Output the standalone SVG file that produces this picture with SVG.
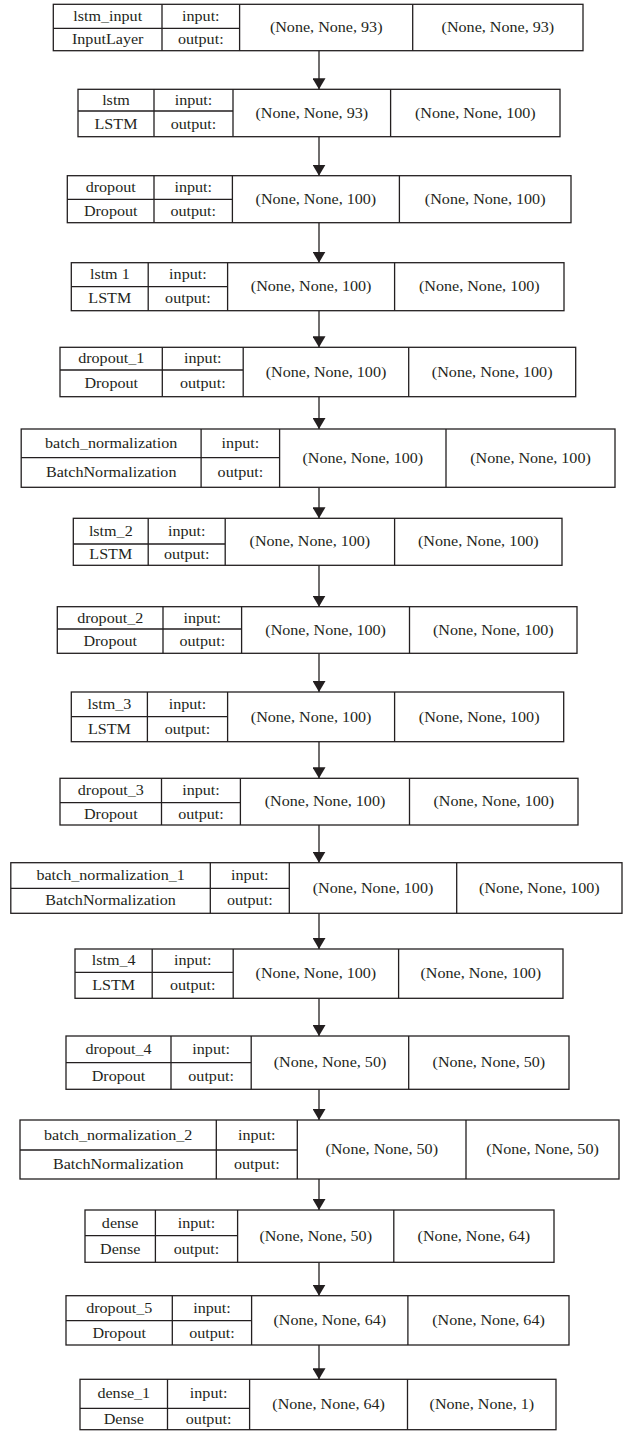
<svg xmlns="http://www.w3.org/2000/svg" width="625" height="1431" viewBox="0 0 625 1431">
<style>
.b{fill:#fff;stroke:#231f20;stroke-width:1.3}
.l{stroke:#231f20;stroke-width:1.3;fill:none}
text{font-family:"Liberation Serif","Times New Roman",serif;font-size:14px;fill:#231f20;text-anchor:middle}
.c{stroke:#231f20;stroke-width:1.3;fill:none;marker-end:url(#ah)}
</style>
<defs>
<marker id="ah" markerUnits="userSpaceOnUse" viewBox="0 0 11 13" markerWidth="11" markerHeight="13" refX="11" refY="6.5" orient="auto">
<path d="M0,0 L11,6.5 L0,13 Z" fill="#231f20"/>
</marker>
</defs>
<rect width="625" height="1431" fill="#fff"/>
<g id="connectors">
<line class="c" x1="319" y1="50.7" x2="319" y2="89.3"/>
<line class="c" x1="319" y1="136.7" x2="319" y2="175.7"/>
<line class="c" x1="319" y1="222.7" x2="319" y2="262.7"/>
<line class="c" x1="319" y1="310.7" x2="319" y2="347.3"/>
<line class="c" x1="319" y1="396.7" x2="319" y2="429"/>
<line class="c" x1="319" y1="487.3" x2="319" y2="518.3"/>
<line class="c" x1="319" y1="565.3" x2="319" y2="606.7"/>
<line class="c" x1="319" y1="653.3" x2="319" y2="692"/>
<line class="c" x1="319" y1="741.7" x2="319" y2="778.3"/>
<line class="c" x1="319" y1="825" x2="319" y2="862.7"/>
<line class="c" x1="319" y1="913.3" x2="319" y2="949"/>
<line class="c" x1="319" y1="998.3" x2="319" y2="1036"/>
<line class="c" x1="319" y1="1089.3" x2="319" y2="1120"/>
<line class="c" x1="319" y1="1179" x2="319" y2="1210"/>
<line class="c" x1="319" y1="1262.3" x2="319" y2="1295.7"/>
<line class="c" x1="319" y1="1345" x2="319" y2="1379.3"/>
</g>
<g id="lstm_input">
<rect class="b" x="53.3" y="4.3" width="529.7" height="46.4"/>
<path class="l" d="M162,4.3V50.7M239.6,4.3V50.7M412.7,4.3V50.7M53.3,28.3H239.6"/>
<text transform="translate(107.7 20.9) scale(1.15 1)">lstm_input</text>
<text transform="translate(107.7 44.1) scale(1.15 1)">InputLayer</text>
<text transform="translate(200.8 20.9) scale(1.15 1)">input:</text>
<text transform="translate(200.8 44.1) scale(1.15 1)">output:</text>
<text transform="translate(326.2 32.1) scale(1.15 1)">(None, None, 93)</text>
<text transform="translate(497.9 32.1) scale(1.15 1)">(None, None, 93)</text>
</g>
<g id="lstm">
<rect class="b" x="78" y="89.3" width="482" height="47.4"/>
<path class="l" d="M154,89.3V136.7M233,89.3V136.7M390.6,89.3V136.7M78,111H233"/>
<text transform="translate(116 104.8) scale(1.15 1)">lstm</text>
<text transform="translate(116 128.5) scale(1.15 1)">LSTM</text>
<text transform="translate(193.5 104.8) scale(1.15 1)">input:</text>
<text transform="translate(193.5 128.5) scale(1.15 1)">output:</text>
<text transform="translate(311.8 117.6) scale(1.15 1)">(None, None, 93)</text>
<text transform="translate(475.3 117.6) scale(1.15 1)">(None, None, 100)</text>
</g>
<g id="dropout">
<rect class="b" x="67.3" y="175.7" width="503.7" height="47"/>
<path class="l" d="M154,175.7V222.7M232.4,175.7V222.7M399.4,175.7V222.7M67.3,199.3H232.4"/>
<text transform="translate(110.7 192.1) scale(1.15 1)">dropout</text>
<text transform="translate(110.7 215.6) scale(1.15 1)">Dropout</text>
<text transform="translate(193.2 192.1) scale(1.15 1)">input:</text>
<text transform="translate(193.2 215.6) scale(1.15 1)">output:</text>
<text transform="translate(315.9 203.8) scale(1.15 1)">(None, None, 100)</text>
<text transform="translate(485.2 203.8) scale(1.15 1)">(None, None, 100)</text>
</g>
<g id="lstm_1">
<rect class="b" x="71.3" y="262.7" width="492.7" height="48"/>
<path class="l" d="M148.2,262.7V310.7M227.6,262.7V310.7M394.6,262.7V310.7M71.3,286.7H227.6"/>
<text transform="translate(109.8 279.3) scale(1.15 1)">lstm 1</text>
<text transform="translate(109.8 303.3) scale(1.15 1)">LSTM</text>
<text transform="translate(187.9 279.3) scale(1.15 1)">input:</text>
<text transform="translate(187.9 303.3) scale(1.15 1)">output:</text>
<text transform="translate(311.1 291.3) scale(1.15 1)">(None, None, 100)</text>
<text transform="translate(479.3 291.3) scale(1.15 1)">(None, None, 100)</text>
</g>
<g id="dropout_1">
<rect class="b" x="60" y="347.3" width="515.7" height="49.4"/>
<path class="l" d="M162.3,347.3V396.7M243.2,347.3V396.7M408.7,347.3V396.7M60,370H243.2"/>
<text transform="translate(111.2 363.3) scale(1.15 1)">dropout_1</text>
<text transform="translate(111.2 388) scale(1.15 1)">Dropout</text>
<text transform="translate(202.8 363.3) scale(1.15 1)">input:</text>
<text transform="translate(202.8 388) scale(1.15 1)">output:</text>
<text transform="translate(326 376.6) scale(1.15 1)">(None, None, 100)</text>
<text transform="translate(492.2 376.6) scale(1.15 1)">(None, None, 100)</text>
</g>
<g id="batch_normalization">
<rect class="b" x="21.2" y="429" width="593.8" height="58.3"/>
<path class="l" d="M201.1,429V487.3M279.6,429V487.3M446,429V487.3M21.2,457.7H279.6"/>
<text transform="translate(111.2 448) scale(1.15 1)">batch_normalization</text>
<text transform="translate(111.2 477.1) scale(1.15 1)">BatchNormalization</text>
<text transform="translate(240.4 448) scale(1.15 1)">input:</text>
<text transform="translate(240.4 477.1) scale(1.15 1)">output:</text>
<text transform="translate(362.8 462.8) scale(1.15 1)">(None, None, 100)</text>
<text transform="translate(530.5 462.8) scale(1.15 1)">(None, None, 100)</text>
</g>
<g id="lstm_2">
<rect class="b" x="73.3" y="518.3" width="488.7" height="47"/>
<path class="l" d="M148.2,518.3V565.3M225.2,518.3V565.3M394.6,518.3V565.3M73.3,544H225.2"/>
<text transform="translate(110.8 535.8) scale(1.15 1)">lstm_2</text>
<text transform="translate(110.8 559.3) scale(1.15 1)">LSTM</text>
<text transform="translate(186.7 535.8) scale(1.15 1)">input:</text>
<text transform="translate(186.7 559.3) scale(1.15 1)">output:</text>
<text transform="translate(309.9 546.4) scale(1.15 1)">(None, None, 100)</text>
<text transform="translate(478.3 546.4) scale(1.15 1)">(None, None, 100)</text>
</g>
<g id="dropout_2">
<rect class="b" x="57.3" y="606.7" width="519.7" height="46.6"/>
<path class="l" d="M163,606.7V653.3M241.6,606.7V653.3M409.5,606.7V653.3M57.3,629H241.6"/>
<text transform="translate(110.2 622.5) scale(1.15 1)">dropout_2</text>
<text transform="translate(110.2 645.8) scale(1.15 1)">Dropout</text>
<text transform="translate(202.3 622.5) scale(1.15 1)">input:</text>
<text transform="translate(202.3 645.8) scale(1.15 1)">output:</text>
<text transform="translate(325.6 634.6) scale(1.15 1)">(None, None, 100)</text>
<text transform="translate(493.3 634.6) scale(1.15 1)">(None, None, 100)</text>
</g>
<g id="lstm_3">
<rect class="b" x="71.3" y="692" width="492.4" height="49.7"/>
<path class="l" d="M147.4,692V741.7M227.6,692V741.7M394.6,692V741.7M71.3,716.7H227.6"/>
<text transform="translate(109.4 709) scale(1.15 1)">lstm_3</text>
<text transform="translate(109.4 733.8) scale(1.15 1)">LSTM</text>
<text transform="translate(187.5 709) scale(1.15 1)">input:</text>
<text transform="translate(187.5 733.8) scale(1.15 1)">output:</text>
<text transform="translate(311.1 721.5) scale(1.15 1)">(None, None, 100)</text>
<text transform="translate(479.2 721.5) scale(1.15 1)">(None, None, 100)</text>
</g>
<g id="dropout_3">
<rect class="b" x="60" y="778.3" width="518" height="46.7"/>
<path class="l" d="M161.5,778.3V825M240.4,778.3V825M409.5,778.3V825M60,802.7H240.4"/>
<text transform="translate(110.8 795.1) scale(1.15 1)">dropout_3</text>
<text transform="translate(110.8 818.5) scale(1.15 1)">Dropout</text>
<text transform="translate(201 795.1) scale(1.15 1)">input:</text>
<text transform="translate(201 818.5) scale(1.15 1)">output:</text>
<text transform="translate(325 806.3) scale(1.15 1)">(None, None, 100)</text>
<text transform="translate(493.8 806.3) scale(1.15 1)">(None, None, 100)</text>
</g>
<g id="batch_normalization_1">
<rect class="b" x="10.8" y="862.7" width="611.2" height="50.6"/>
<path class="l" d="M210.3,862.7V913.3M289.3,862.7V913.3M456.7,862.7V913.3M10.8,888.3H289.3"/>
<text transform="translate(110.6 880.1) scale(1.15 1)">batch_normalization_1</text>
<text transform="translate(110.6 905.4) scale(1.15 1)">BatchNormalization</text>
<text transform="translate(249.8 880.1) scale(1.15 1)">input:</text>
<text transform="translate(249.8 905.4) scale(1.15 1)">output:</text>
<text transform="translate(373 892.6) scale(1.15 1)">(None, None, 100)</text>
<text transform="translate(539.4 892.6) scale(1.15 1)">(None, None, 100)</text>
</g>
<g id="lstm_4">
<rect class="b" x="75" y="949" width="488" height="49.3"/>
<path class="l" d="M152.2,949V998.3M233.2,949V998.3M398.6,949V998.3M75,972.3H233.2"/>
<text transform="translate(113.6 965.3) scale(1.15 1)">lstm_4</text>
<text transform="translate(113.6 989.9) scale(1.15 1)">LSTM</text>
<text transform="translate(192.7 965.3) scale(1.15 1)">input:</text>
<text transform="translate(192.7 989.9) scale(1.15 1)">output:</text>
<text transform="translate(315.9 978.3) scale(1.15 1)">(None, None, 100)</text>
<text transform="translate(480.8 978.3) scale(1.15 1)">(None, None, 100)</text>
</g>
<g id="dropout_4">
<rect class="b" x="66" y="1036" width="503" height="53.3"/>
<path class="l" d="M171,1036V1089.3M251.2,1036V1089.3M408.7,1036V1089.3M66,1062.7H251.2"/>
<text transform="translate(118.5 1054) scale(1.15 1)">dropout_4</text>
<text transform="translate(118.5 1080.6) scale(1.15 1)">Dropout</text>
<text transform="translate(211.1 1054) scale(1.15 1)">input:</text>
<text transform="translate(211.1 1080.6) scale(1.15 1)">output:</text>
<text transform="translate(330 1067.3) scale(1.15 1)">(None, None, 50)</text>
<text transform="translate(488.9 1067.3) scale(1.15 1)">(None, None, 50)</text>
</g>
<g id="batch_normalization_2">
<rect class="b" x="20" y="1120" width="599" height="59"/>
<path class="l" d="M216.3,1120V1179M297.3,1120V1179M466,1120V1179M20,1150H297.3"/>
<text transform="translate(118.2 1139.6) scale(1.15 1)">batch_normalization_2</text>
<text transform="translate(118.2 1169.1) scale(1.15 1)">BatchNormalization</text>
<text transform="translate(256.8 1139.6) scale(1.15 1)">input:</text>
<text transform="translate(256.8 1169.1) scale(1.15 1)">output:</text>
<text transform="translate(381.7 1154.1) scale(1.15 1)">(None, None, 50)</text>
<text transform="translate(542.5 1154.1) scale(1.15 1)">(None, None, 50)</text>
</g>
<g id="dense">
<rect class="b" x="85" y="1210" width="469" height="52.3"/>
<path class="l" d="M155.4,1210V1262.3M237.6,1210V1262.3M393.8,1210V1262.3M85,1235.7H237.6"/>
<text transform="translate(120.2 1227.5) scale(1.15 1)">dense</text>
<text transform="translate(120.2 1253.6) scale(1.15 1)">Dense</text>
<text transform="translate(196.5 1227.5) scale(1.15 1)">input:</text>
<text transform="translate(196.5 1253.6) scale(1.15 1)">output:</text>
<text transform="translate(315.7 1240.8) scale(1.15 1)">(None, None, 50)</text>
<text transform="translate(473.9 1240.8) scale(1.15 1)">(None, None, 64)</text>
</g>
<g id="dropout_5">
<rect class="b" x="66" y="1295.7" width="503" height="49.3"/>
<path class="l" d="M172.3,1295.7V1345M251.6,1295.7V1345M407.9,1295.7V1345M66,1320.7H251.6"/>
<text transform="translate(119.2 1312.8) scale(1.15 1)">dropout_5</text>
<text transform="translate(119.2 1337.5) scale(1.15 1)">Dropout</text>
<text transform="translate(212 1312.8) scale(1.15 1)">input:</text>
<text transform="translate(212 1337.5) scale(1.15 1)">output:</text>
<text transform="translate(329.8 1325) scale(1.15 1)">(None, None, 64)</text>
<text transform="translate(488.5 1325) scale(1.15 1)">(None, None, 64)</text>
</g>
<g id="dense_1">
<rect class="b" x="80" y="1379.3" width="476" height="50.4"/>
<path class="l" d="M167.5,1379.3V1429.7M249.6,1379.3V1429.7M407.5,1379.3V1429.7M80,1408.3H249.6"/>
<text transform="translate(123.8 1398.4) scale(1.15 1)">dense_1</text>
<text transform="translate(123.8 1423.8) scale(1.15 1)">Dense</text>
<text transform="translate(208.6 1398.4) scale(1.15 1)">input:</text>
<text transform="translate(208.6 1423.8) scale(1.15 1)">output:</text>
<text transform="translate(328.6 1409.3) scale(1.15 1)">(None, None, 64)</text>
<text transform="translate(481.8 1409.3) scale(1.15 1)">(None, None, 1)</text>
</g>
</svg>
